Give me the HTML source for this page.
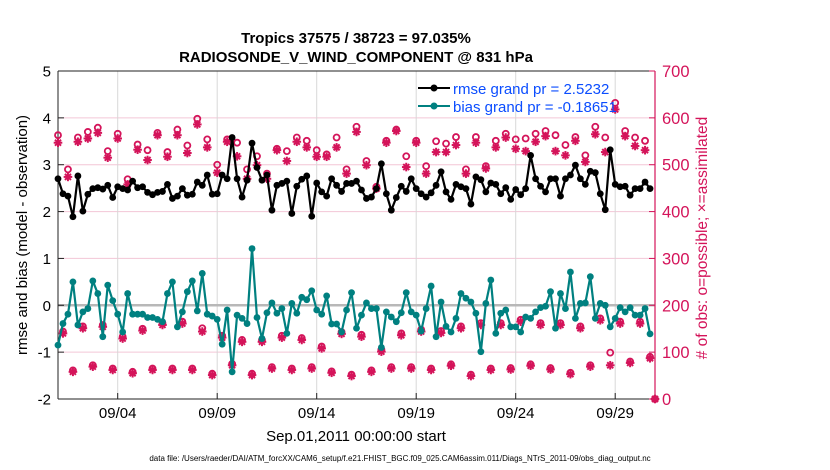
<!DOCTYPE html>
<html><head><meta charset="utf-8"><style>
html,body{margin:0;padding:0;background:#fff;}
svg{display:block;font-family:"Liberation Sans",Arial,sans-serif;}
</style></head><body>
<svg id="chart" width="830" height="470" viewBox="0 0 830 470">
<g id="grid"></g>
<g id="axes"></g>
<g id="marks"></g>
<text x="356" y="43" text-anchor="middle" font-size="15" font-weight="bold">Tropics 37575 / 38723 = 97.035%</text>
<text x="356" y="62" text-anchor="middle" font-size="15" font-weight="bold">RADIOSONDE_V_WIND_COMPONENT @ 831 hPa</text>
<text transform="translate(27,235) rotate(-90)" text-anchor="middle" font-size="15">rmse and bias (model - observation)</text>
<text transform="translate(707,238) rotate(-90)" text-anchor="middle" font-size="15.5" fill="#d4145a"># of obs: o=possible; ×=assimilated</text>
<text x="356" y="441" text-anchor="middle" font-size="15">Sep.01,2011 00:00:00 start</text>
<text x="400" y="461" text-anchor="middle" font-size="8">data file: /Users/raeder/DAI/ATM_forcXX/CAM6_setup/f.e21.FHIST_BGC.f09_025.CAM6assim.011/Diags_NTrS_2011-09/obs_diag_output.nc</text>
<g>
<line x1="418" y1="88" x2="450" y2="88" stroke="#000" stroke-width="2"/>
<circle cx="434" cy="88" r="3.5" fill="#000"/>
<text x="453" y="94" font-size="15" fill="#0b4dff">rmse grand pr = 2.5232</text>
<line x1="418" y1="106" x2="450" y2="106" stroke="#008080" stroke-width="2"/>
<circle cx="434" cy="106" r="3.5" fill="#008080"/>
<text x="453" y="112" font-size="15" fill="#0b4dff">bias grand pr = -0.18651</text>
</g>
</svg>
<script>
const rmse=[2.70,2.38,2.33,1.89,2.76,2.01,2.37,2.49,2.51,2.48,2.56,2.30,2.53,2.49,2.46,2.65,2.51,2.53,2.41,2.36,2.41,2.43,2.58,2.28,2.33,2.49,2.35,2.37,2.63,2.56,2.78,2.37,2.38,2.78,2.70,3.58,2.70,2.31,2.67,3.46,2.94,2.67,2.78,
2.03,2.56,2.60,2.65,1.96,2.54,2.69,2.76,1.90,2.61,2.42,2.33,2.70,2.56,2.43,2.60,2.60,2.65,2.46,2.28,2.31,2.49,3.02,2.38,2.03,2.30,2.54,2.43,2.70,2.49,2.38,2.31,2.40,2.56,2.85,2.42,2.26,2.58,2.53,2.49,2.16,2.74,
2.68,2.42,2.61,2.58,2.38,2.51,2.26,2.47,2.36,2.49,3.20,2.70,2.54,2.42,2.70,2.70,2.33,2.70,2.78,2.99,2.70,2.58,2.86,2.83,2.38,2.04,3.32,2.58,2.53,2.54,2.35,2.49,2.49,2.63,2.49];
const bias=[-0.85,-0.39,-0.19,0.50,-0.42,-0.14,-0.07,0.52,0.25,-0.67,0.43,0.10,-0.19,-0.57,0.25,-0.19,-0.19,-0.19,-0.26,-0.26,-0.30,-0.35,0.25,0.50,-0.46,-0.14,0.29,0.52,-0.12,0.68,-0.19,-0.23,-0.30,-0.83,-0.10,-1.42,-0.21,-0.28,-0.39,1.21,-0.26,-0.71,-0.16,
0.05,-0.17,-0.07,-0.60,0.04,-0.17,0.17,0.12,0.31,-0.10,-0.19,0.20,-0.40,-0.40,-0.57,-0.10,0.27,-0.49,-0.21,0.05,-0.07,-0.07,-0.90,-0.14,-0.25,-0.35,-0.16,0.27,-0.14,-0.21,-0.55,-0.07,0.41,-0.67,0.07,-0.45,-0.57,-0.28,0.25,0.15,0.07,-0.17,
-0.99,0.04,0.54,-0.60,-0.17,-0.10,-0.46,-0.46,-0.57,-0.25,-0.28,-0.14,-0.05,-0.02,0.29,-0.49,0.25,-0.07,0.71,-0.28,0.04,0.05,0.61,-0.28,0.04,0.00,-0.46,-0.28,-0.05,-0.14,-0.05,-0.21,-0.21,-0.07,-0.61];
const highAssim=[547,474,549,556,568,515,556,458,532,510,563,517,563,525,586,537,483,549,518,470,499,470,531,508,549,537,517,517,537,481,570,499,449,547,572,495,547,481,527,527,542,481,547,492,537,558,534,529,549,561,529,520,551,506,565,527,618,561,540,531,0];
const highPoss=[563,490,558,570,579,529,566,469,543,531,568,527,575,541,598,554,500,554,547,490,518,481,534,529,558,551,531,522,558,490,581,508,453,551,575,518,551,497,550,545,559,490,559,497,551,566,554,556,566,572,563,542,559,520,581,558,632,572,558,551,0];
const midAssim=[140,151,154,129,146,158,161,144,131,122,122,131,126,108,139,133,101,136,144,141,151,158,158,165,158,158,151,168,161,161];
const midPoss=[144,155,158,133,150,162,165,151,135,126,126,135,130,112,143,137,105,140,148,145,155,162,162,169,162,162,155,172,165,165];
const lowAssim=[58,69,62,55,62,62,62,51,72,51,65,62,65,56,49,58,65,65,62,71,49,62,63,71,63,53,69,72,77,87];
const lowPoss=[61,72,65,58,65,65,65,54,75,54,68,65,68,59,52,61,68,68,65,74,52,65,66,74,66,56,72,99,80,90];
const xTickDays=[3,8,13,18,23,28];
const xTickLabels=["09/04","09/09","09/14","09/19","09/24","09/29"];
const leftTicks=[-2,-1,0,1,2,3,4,5];
const rightTicks=[0,100,200,300,400,500,600,700];

const L=58,R=655,T=71,B=399,MAG="#d4145a",NS="http://www.w3.org/2000/svg";
const xs=t=>L+(t/30)*(R-L);
const yl=v=>B-(v+2)/7*(B-T);
const yr=v=>B-v/700*(B-T);
function mk(tag,attrs,parent){const e=document.createElementNS(NS,tag);for(const k in attrs)e.setAttribute(k,attrs[k]);parent.appendChild(e);return e;}
const grid=document.getElementById('grid'),axes=document.getElementById('axes'),marks=document.getElementById('marks');
rightTicks.forEach(v=>{const g=mk('line',{x1:L,x2:R,y1:yr(v),y2:yr(v),stroke:'#f3c6d6','stroke-width':1},grid);

});
xTickDays.forEach(d=>{const g=mk('line',{x1:xs(d),x2:xs(d),y1:T,y2:B,stroke:'#d8d8d8','stroke-width':1},grid);

});
const z=mk('line',{x1:L,x2:R,y1:yl(0),y2:yl(0),stroke:'#b8b8b8','stroke-width':2.5},grid);


mk('line',{x1:L,x2:R,y1:T,y2:T,stroke:'#222','stroke-width':1},axes);
mk('line',{x1:L,x2:R,y1:B,y2:B,stroke:'#222','stroke-width':1},axes);
mk('line',{x1:L,x2:L,y1:T,y2:B,stroke:'#222','stroke-width':1},axes);
mk('line',{x1:R,x2:R,y1:T,y2:B,stroke:MAG,'stroke-width':1.2},axes);
leftTicks.forEach(v=>{mk('line',{x1:L,x2:L+6,y1:yl(v),y2:yl(v),stroke:'#222'},axes);
const t=mk('text',{x:L-7,y:yl(v)+5.5,'text-anchor':'end','font-size':15},axes);t.textContent=v;

});
rightTicks.forEach(v=>{mk('line',{x1:R-6,x2:R,y1:yr(v),y2:yr(v),stroke:MAG},axes);
const t=mk('text',{x:R+7,y:yr(v)+6,'font-size':16.5,fill:MAG},axes);t.textContent=v;

});
xTickDays.forEach((d,i)=>{mk('line',{x1:xs(d),x2:xs(d),y1:B,y2:B-6,stroke:'#222'},axes);
const t=mk('text',{x:xs(d),y:418,'text-anchor':'middle','font-size':15},axes);t.textContent=xTickLabels[i];

});
function star(x,y){const g=mk('g',{stroke:MAG,'stroke-width':2},marks);


const s=4.3;mk('line',{x1:x-s,x2:x+s,y1:y,y2:y},g);mk('line',{x1:x,x2:x,y1:y-s,y2:y+s},g);
mk('line',{x1:x-s*.7,x2:x+s*.7,y1:y-s*.7,y2:y+s*.7},g);mk('line',{x1:x-s*.7,x2:x+s*.7,y1:y+s*.7,y2:y-s*.7},g);}
function ring(x,y){const c=mk('circle',{cx:x,cy:y,r:3,fill:'none',stroke:MAG,'stroke-width':1.8},marks);

}
highAssim.forEach((v,i)=>{const t=i*0.5;ring(xs(t),yr(highPoss[i]));star(xs(t),yr(v));});
midAssim.forEach((v,i)=>{const t=i+0.25;ring(xs(t),yr(midPoss[i]));star(xs(t),yr(v));});
lowAssim.forEach((v,i)=>{const t=i+0.75;ring(xs(t),yr(lowPoss[i]));star(xs(t),yr(v));});
function series(arr,color,name){const pts=arr.map((v,i)=>xs(i*0.25)+','+yl(v)).join(' ');
const p=mk('polyline',{points:pts,fill:'none',stroke:color,'stroke-width':2.2,'stroke-linejoin':'round'},marks);


arr.forEach((v,i)=>{const c=mk('circle',{cx:xs(i*0.25),cy:yl(v),r:3.4,fill:color},marks);

});}
series(rmse,'#000','rmse');
series(bias,'#008080','bias');
</script>
</body></html>
